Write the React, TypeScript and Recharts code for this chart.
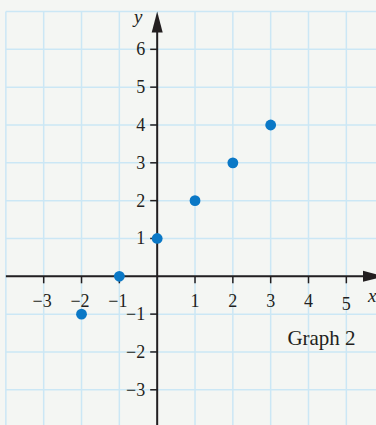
import React from 'react';
import { ScatterChart, Scatter, XAxis, YAxis, ReferenceLine, ReferenceDot } from 'recharts';

const points = [
  { x: -2, y: -1 },
  { x: -1, y: 0 },
  { x: 0, y: 1 },
  { x: 1, y: 2 },
  { x: 2, y: 3 },
  { x: 3, y: 4 },
];
const xTicks = [-3, -2, -1, 1, 2, 3, 4, 5];
const yTicks = [-3, -2, -1, 1, 2, 3, 4, 5, 6];
const gridX = [-4, -3, -2, -1, 0, 1, 2, 3, 4, 5];
const gridY = [-3, -2, -1, 0, 1, 2, 3, 4, 5, 6, 7];
const graphTitle = 'Graph 2';

const X_MIN = -4.155;
const X_MAX = 5.784;
const Y_MIN = -3.931;
const Y_MAX = 7.304;

const BG = '#f4f6f3';
const GRID = '#cbe7f5';
const INK = '#231f20';
const DOT = '#0a78c6';
const FONT = '"Liberation Serif", "DejaVu Serif", serif';

const fmt = (n: number) => (n < 0 ? `\u2212${-n}` : `${n}`);

export default function App() {
  return (
    <div style={{ position: 'fixed', left: 0, top: 0, width: 376, height: 425, background: BG }}>
      <ScatterChart width={376} height={425} margin={{ top: 0, right: 0, bottom: 0, left: 0 }}>
        <XAxis type="number" dataKey="x" domain={[X_MIN, X_MAX]} allowDataOverflow hide />
        <YAxis type="number" dataKey="y" domain={[Y_MIN, Y_MAX]} allowDataOverflow hide />

        {gridX.map((v) => (
          <ReferenceLine
            key={`gx${v}`}
            ifOverflow="visible"
            segment={[{ x: v, y: Y_MIN }, { x: v, y: 7 }]}
            stroke={GRID}
            strokeWidth={1.5}
          />
        ))}
        {gridY.map((v) => (
          <ReferenceLine
            key={`gy${v}`}
            ifOverflow="visible"
            segment={[{ x: -4, y: v }, { x: X_MAX, y: v }]}
            stroke={GRID}
            strokeWidth={1.5}
          />
        ))}

        {/* x axis with arrow */}
        <ReferenceLine
          ifOverflow="visible"
          segment={[{ x: -4, y: 0 }, { x: X_MAX, y: 0 }]}
          shape={(p: any) => {
            const tip = p.x2 + 8;
            return (
              <g>
                <line x1={p.x1} y1={p.y1} x2={tip - 18} y2={p.y2} stroke={INK} strokeWidth={2} />
                <polygon points={`${tip},${p.y2} ${tip - 21},${p.y2 - 5.5} ${tip - 21},${p.y2 + 5.5}`} fill={INK} />
              </g>
            );
          }}
        />
        {/* y axis with arrow */}
        <ReferenceLine
          ifOverflow="visible"
          segment={[{ x: 0, y: Y_MIN }, { x: 0, y: 7 }]}
          shape={(p: any) => {
            const top = Math.min(p.y1, p.y2);
            const bottom = Math.max(p.y1, p.y2);
            return (
              <g>
                <line x1={p.x1} y1={bottom} x2={p.x1} y2={top + 18} stroke={INK} strokeWidth={2} />
                <polygon points={`${p.x1},${top} ${p.x1 - 5.5},${top + 21} ${p.x1 + 5.5},${top + 21}`} fill={INK} />
              </g>
            );
          }}
        />

        {xTicks.map((v) => (
          <ReferenceDot
            key={`xt${v}`}
            x={v}
            y={0}
            r={1}
            ifOverflow="visible"
            shape={(p: any) => (
              <g>
                <line x1={p.cx} y1={p.cy} x2={p.cx} y2={p.cy + 7} stroke={INK} strokeWidth={1.5} />
                <text
                  x={v < 0 ? p.cx - 1.5 : p.cx}
                  y={p.cy + 31 + (v === 5 ? 3 : 0)}
                  textAnchor="middle"
                  fontFamily={FONT}
                  fontSize={18}
                  fill={INK}
                >
                  {fmt(v)}
                </text>
              </g>
            )}
          />
        ))}
        {yTicks.map((v) => (
          <ReferenceDot
            key={`yt${v}`}
            x={0}
            y={v}
            r={1}
            ifOverflow="visible"
            shape={(p: any) => (
              <g>
                <line x1={p.cx - 7} y1={p.cy} x2={p.cx} y2={p.cy} stroke={INK} strokeWidth={1.5} />
                <text x={p.cx - 12} y={p.cy + 6} textAnchor="end" fontFamily={FONT} fontSize={18} fill={INK}>
                  {fmt(v)}
                </text>
              </g>
            )}
          />
        ))}

        {/* axis names and caption */}
        <ReferenceDot
          x={0}
          y={7}
          r={1}
          ifOverflow="visible"
          shape={(p: any) => (
            <text x={p.cx - 19} y={p.cy + 12} textAnchor="middle" fontFamily={FONT} fontStyle="italic" fontSize={19} fill={INK}>
              y
            </text>
          )}
        />
        <ReferenceDot
          x={X_MAX}
          y={0}
          r={1}
          ifOverflow="visible"
          shape={(p: any) => (
            <text x={p.cx - 8} y={p.cy + 26} fontFamily={FONT} fontStyle="italic" fontSize={19} fill={INK}>
              x
            </text>
          )}
        />
        <ReferenceDot
          x={4}
          y={-2}
          r={1}
          ifOverflow="visible"
          shape={(p: any) => (
            <text x={p.cx + 13} y={p.cy - 7} textAnchor="middle" fontFamily={FONT} fontSize={21} fill={INK}>
              {graphTitle}
            </text>
          )}
        />

        <Scatter
          data={points}
          isAnimationActive={false}
          shape={(p: any) => <circle cx={p.cx} cy={p.cy} r={5.4} fill={DOT} />}
        />
      </ScatterChart>
    </div>
  );
}
